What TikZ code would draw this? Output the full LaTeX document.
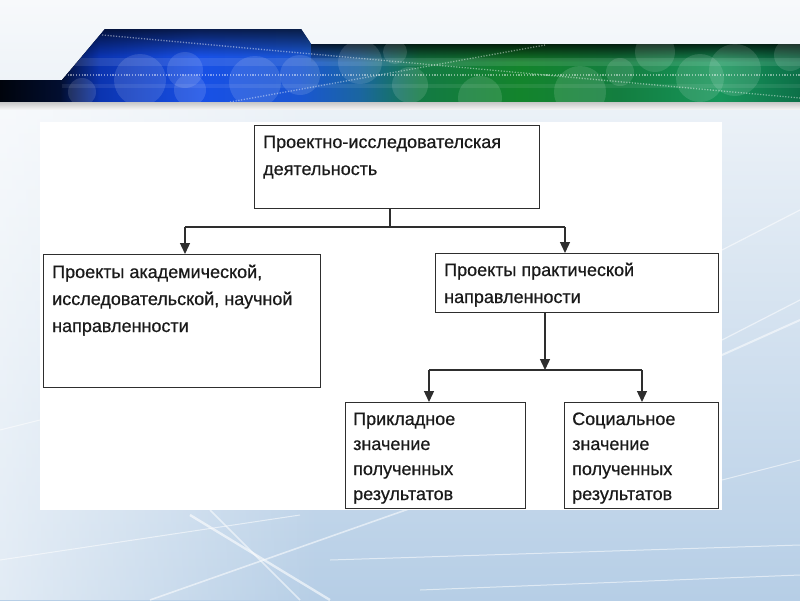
\documentclass[tikz,border=0pt]{standalone}
\usepackage{fontspec}
\setmainfont{Liberation Sans}
\newfontface\semib{Liberation Sans}[FakeBold=0.6]
\usetikzlibrary{arrows.meta,calc,fadings}
\definecolor{bA}{HTML}{00040C}
\definecolor{bB}{HTML}{020E30}
\definecolor{bC}{HTML}{0B34B0}
\definecolor{bD}{HTML}{1850E6}
\definecolor{bE}{HTML}{1A56D2}
\definecolor{bF}{HTML}{1A66A0}
\definecolor{bG}{HTML}{137A44}
\definecolor{bH}{HTML}{13842C}
\definecolor{bI}{HTML}{137E40}
\definecolor{bJ}{HTML}{16955A}
\definecolor{bK}{HTML}{0C7048}
\definecolor{bgtop}{HTML}{F7F9FB}
\definecolor{bgbot}{HTML}{B6CEE6}
\definecolor{linec}{HTML}{2E2E2E}
\definecolor{textc}{HTML}{1A1A1A}
\pgfdeclarehorizontalshading{bannershade}{100bp}{color(0bp)=(bA); color(25bp)=(bA); color(28.75bp)=(bB); color(31.25bp)=(bC); color(37.5bp)=(bD); color(43.75bp)=(bE); color(47.5bp)=(bF); color(51.25bp)=(bG); color(57.5bp)=(bH); color(63.75bp)=(bI); color(70bp)=(bJ); color(75bp)=(bK); color(100bp)=(bK)}
\tikzfading[name=topdark, top color=transparent!0, bottom color=transparent!100]
\tikzfading[name=leftwhite, left color=transparent!0, right color=transparent!100]
\begin{document}
\begin{tikzpicture}[x=1pt,y=-1pt,
  box/.style={draw=linec, line width=1.3pt, fill=white, inner sep=0pt, anchor=north west},
  txt/.style={inner sep=0pt, anchor=base west, align=left, text=textc, font=\semib\fontsize{18}{27}\selectfont},
  txtb/.style={txt, font=\semib\fontsize{18}{25}\selectfont},
  conn/.style={draw=linec, line width=1.3pt},
  arr/.style={conn, -{Triangle[length=11pt,width=10pt]}},
  streak/.style={white, line width=1.6pt, opacity=0.55},
  dots/.style={white, line width=1.3pt, opacity=0.45, dash pattern=on 1.2pt off 1.6pt},
  bokeh/.style={fill=white, fill opacity=0.12}
]
\useasboundingbox (0,0) rectangle (800,600);
% background
\shade[top color=bgtop, bottom color=bgbot] (0,0) rectangle (800,600);
\fill[white, path fading=leftwhite, fill opacity=0.6] (0,110) rectangle (320,600);
\draw[streak] (150,600) -- (420,505);
\draw[streak, line width=2.4pt, opacity=0.6] (190,515) -- (330,600);
\draw[streak] (210,510) -- (300,600);
\draw[streak, line width=1pt] (0,560) -- (300,515);
\draw[streak, line width=1pt] (330,560) -- (800,545);
\draw[streak, line width=1pt] (420,590) -- (800,575);
\draw[streak, line width=1.2pt] (722,250) -- (800,210);
\draw[streak, line width=1.2pt] (722,340) -- (800,300);
\draw[streak, line width=2pt] (722,355) -- (800,320);
\draw[streak, line width=1pt] (722,480) -- (800,460);
\draw[streak, line width=1pt] (0,430) -- (40,420);
% banner
\fill[shading=bannershade] (0,80) -- (62,80) -- (105,29) -- (301,29) -- (311,44) -- (800,44) -- (800,102) -- (0,102) -- cycle;
\begin{scope}
  \clip (0,80) -- (62,80) -- (105,29) -- (301,29) -- (311,44) -- (800,44) -- (800,102) -- (0,102) -- cycle;
  \fill[black, path fading=topdark, fill opacity=0.65] (0,29) rectangle (311,56);
  \fill[black, path fading=topdark, fill opacity=0.75] (311,44) rectangle (800,62);
  \fill[white, fill opacity=0.10] (62,58) rectangle (800,66);
  \fill[white, fill opacity=0.08] (62,84) rectangle (800,88);
  \fill[bokeh] (82,92) circle[radius=14pt];
  \fill[bokeh] (140,80) circle[radius=26pt];
  \fill[bokeh] (185,70) circle[radius=18pt];
  \fill[bokeh] (190,90) circle[radius=16pt];
  \fill[bokeh] (255,82) circle[radius=26pt];
  \fill[bokeh] (300,75) circle[radius=20pt];
  \fill[bokeh] (360,62) circle[radius=22pt];
  \fill[bokeh] (395,52) circle[radius=12pt];
  \fill[bokeh] (410,85) circle[radius=18pt];
  \fill[bokeh] (480,98) circle[radius=22pt];
  \fill[bokeh] (580,92) circle[radius=26pt];
  \fill[bokeh] (620,72) circle[radius=14pt];
  \fill[bokeh] (655,52) circle[radius=20pt];
  \fill[bokeh] (700,78) circle[radius=24pt];
  \fill[bokeh] (735,70) circle[radius=26pt];
  \fill[bokeh] (790,55) circle[radius=16pt];
  \draw[dots] (102,35) -- (800,98);
  \draw[dots] (230,102) -- (545,45);
  \draw[dots] (62,75) -- (800,75);
\end{scope}
\shade[top color=black!22, bottom color=black!5] (0,102) rectangle (800,109);
% diagram panel
\fill[white] (40,122) rectangle (722,510);
% boxes
\node[box, minimum width=285pt, minimum height=83pt] (top) at (254,125) {};
\node[box, minimum width=277pt, minimum height=133pt] (left) at (43,254) {};
\node[box, minimum width=283pt, minimum height=59pt] (right) at (435,253) {};
\node[box, minimum width=180pt, minimum height=106pt] (bl) at (345,402) {};
\node[box, minimum width=154pt, minimum height=106pt] (br) at (564,402) {};
% texts (base anchor = baseline of the last line)
\node[txt] (topt) at ($(top.north west)+(9,50)$) {Проектно-исследователская\\деятельность};
\node[txt] (leftt) at ($(left.north west)+(9,78)$) {Проекты академической,\\исследовательской, научной\\направленности};
\node[txt] (rightt) at ($(right.north west)+(9,50)$) {Проекты практической\\направленности};
\node[txtb] (blt) at ($(bl.north west)+(8,98)$) {Прикладное\\значение\\полученных\\результатов};
\node[txtb] (brt) at ($(br.north west)+(8,98)$) {Социальное\\значение\\полученных\\результатов};
% connectors
\coordinate (j1) at (390,227);
\coordinate (jl) at (185,227);
\coordinate (jr) at (565,227);
\draw[conn] (top.south -| j1) -- (j1);
\draw[conn] (jl) -- (jr);
\draw[arr] (jl) -- (jl |- left.north);
\draw[arr] (jr) -- (jr |- right.north);
\coordinate (j2) at (545,370);
\coordinate (jl2) at (429,370);
\coordinate (jr2) at (642,370);
\draw[arr] (right.south -| j2) -- (j2);
\draw[conn] (jl2) -- (jr2);
\draw[arr] (jl2) -- (jl2 |- bl.north);
\draw[arr] (jr2) -- (jr2 |- br.north);
\end{tikzpicture}
\end{document}
